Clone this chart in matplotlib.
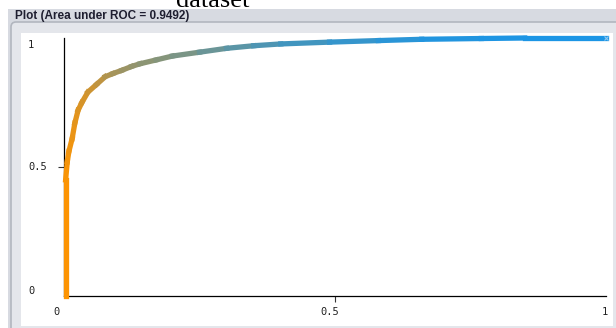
import matplotlib
matplotlib.use("Agg")
import numpy as np
from matplotlib import pyplot as plt
from matplotlib.collections import LineCollection
from matplotlib.colors import LinearSegmentedColormap
from matplotlib.patches import Rectangle, FancyBboxPatch
from matplotlib.transforms import ScaledTranslation

# ROC points
fpr = [0.003, 0.003, 0.006, 0.009, 0.015, 0.02, 0.026, 0.033, 0.044, 0.06, 0.076,
       0.09, 0.107, 0.125, 0.14, 0.17, 0.2, 0.25, 0.3, 0.35, 0.4, 0.49, 0.58,
       0.66, 0.77, 0.85, 1.0]
tpr = [0.0, 0.45, 0.52, 0.56, 0.61, 0.67, 0.72, 0.75, 0.79, 0.82, 0.85,
       0.862, 0.875, 0.89, 0.90, 0.915, 0.93, 0.945, 0.96, 0.97, 0.977, 0.984, 0.99,
       0.995, 0.998, 1.0, 1.0]
# threshold of each point (drives the colour)
threshold = [1.0, 0.98, 0.96, 0.94, 0.92, 0.89, 0.86, 0.83, 0.8, 0.75, 0.68,
             0.63, 0.58, 0.54, 0.51, 0.48, 0.45, 0.38, 0.31, 0.25, 0.2, 0.14, 0.09,
             0.05, 0.02, 0.01, 0.0]

title = "Plot (Area under ROC = 0.9492)"
xtick_labels = ["0", "0.5", "1"]
xtick_values = [0, 0.5, 1]
ytick_labels = ["1", "0.5", "0"]
ytick_values = [1, 0.5, 0]

W, H = 616, 328
fig = plt.figure(figsize=(W / 100, H / 100), dpi=100)
fig.patch.set_facecolor("white")

# window decoration in pixel coordinates
bg = fig.add_axes([0, 0, 1, 1])
bg.set_xlim(0, W)
bg.set_ylim(H, 0)
bg.axis("off")
bg.add_patch(Rectangle((8, 9), W - 8, H - 9, color="#d7dae1", lw=0))
bg.add_patch(FancyBboxPatch((11, 22), W, H, boxstyle="round,pad=0,rounding_size=5",
                            fc="#e4e6eb", ec="#b2b6bf", lw=1.2))
bg.add_patch(Rectangle((21, 33), 592, 293, color="white", lw=0))
bg.text(15, 16, title, fontsize=8.5, fontweight="bold", family="Liberation Sans",
        color="#1e1e30", va="center", ha="left")
bg.text(213, 7, "dataset", fontsize=19, family="Liberation Serif",
        color="black", va="baseline", ha="center")

ax = fig.add_axes([64 / W, (H - 296) / H, 542 / W, 258 / H])
ax.set_xlim(0, 1)
ax.set_ylim(0, 1)
ax.patch.set_alpha(0)
for s in ["top", "right"]:
    ax.spines[s].set_visible(False)
for s in ["left", "bottom"]:
    ax.spines[s].set_linewidth(0.9)
    ax.spines[s].set_color("black")
ax.set_xticks([0.5])
ax.set_yticks([0.5])
ax.set_xticklabels([])
ax.set_yticklabels([])
ax.tick_params(length=4, width=0.8, color="#333333")

cmap = LinearSegmentedColormap.from_list("roc", ["#1b95e6", "#ff9400"])
pts = np.column_stack([fpr, tpr])
segs = np.stack([pts[:-1], pts[1:]], axis=1)
seg_t = (np.array(threshold[:-1]) + np.array(threshold[1:])) / 2
lc = LineCollection(segs, colors=cmap(seg_t), linewidths=3.8, capstyle="projecting",
                    joinstyle="round", clip_on=False, zorder=3)
ax.add_collection(lc)
ax.plot(fpr[-1], tpr[-1], marker="x", ms=3, color="#8ec8f0", mew=0.8, clip_on=False, zorder=4)

mono = dict(family="DejaVu Sans Mono", fontsize=7.5, color="#222222")
x_off = [-7, -5, -1]
for v, lab, o in zip(xtick_values, xtick_labels, x_off):
    ax.text(v, 0, lab, ha="center", va="center", **mono,
            transform=ax.get_xaxis_transform()
            + ScaledTranslation(o / 100, -16 / 100, fig.dpi_scale_trans))
y_off = [-7, 0, 5]
for v, lab, o in zip(ytick_values, ytick_labels, y_off):
    ax.text(0, v, lab, ha="left", va="center", **mono,
            transform=ax.get_yaxis_transform()
            + ScaledTranslation(-36 / 100, o / 100, fig.dpi_scale_trans))

fig.savefig("out.png", dpi=100)
